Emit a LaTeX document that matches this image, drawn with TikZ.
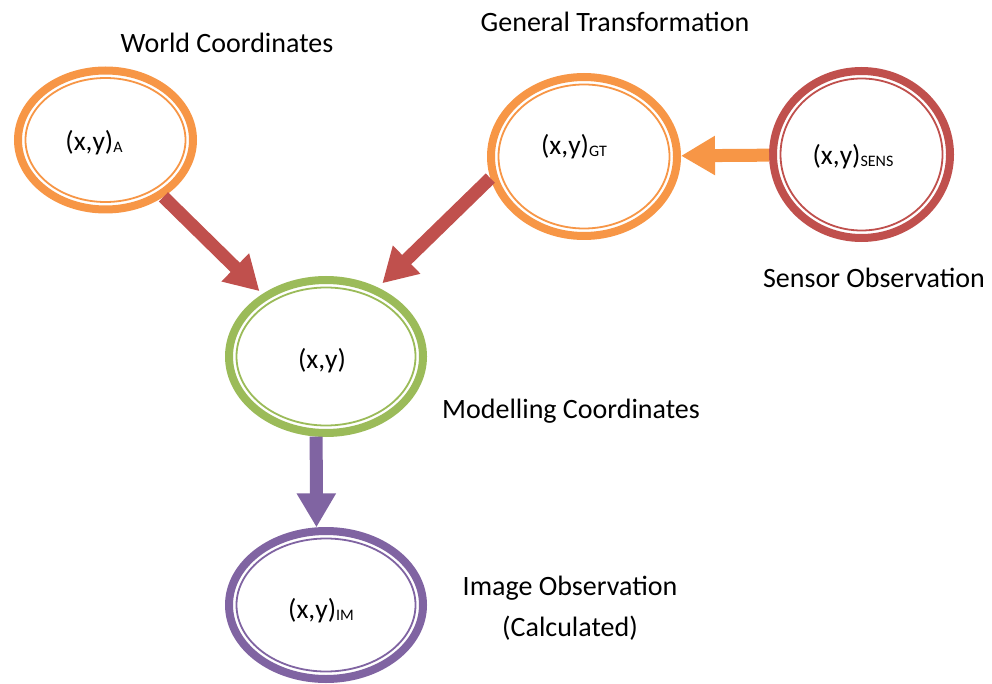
\documentclass[tikz,border=0pt]{standalone}
\usepackage{fontspec}
\setmainfont{Carlito}
\usetikzlibrary{arrows.meta,shapes.geometric}

\definecolor{ringorange}{HTML}{F79646}
\definecolor{ringred}{HTML}{C0504D}
\definecolor{ringgreen}{HTML}{9BBB59}
\definecolor{ringpurple}{HTML}{8064A2}

% small lowered tag after (x,y)
\newcommand\subtag[1]{\raisebox{-2pt}{\fontsize{16}{16}\selectfont #1}}

\begin{document}
\begin{tikzpicture}[x=1pt,y=-1pt,
  font=\fontsize{27.5}{33}\selectfont,
  ring/.style={ellipse, draw=#1, line width=8pt, inner sep=0pt, outer sep=4pt, fill=white},
  innerring/.style={draw=#1, line width=1.8pt},
  flow/.style={draw=#1, line width=13pt, -{Triangle[width=37pt,length=34pt]}, color=#1},
  coord/.style={inner sep=0pt},
  caption/.style={inner sep=0pt, font=\fontsize{28}{33}\selectfont}
]
\useasboundingbox (0,0) rectangle (992,684);

% rings: thick outer band with a thin inner line
\node[ring=ringorange, minimum width=175pt, minimum height=139pt] (A) at (105.5,140) {};
\draw[innerring=ringorange] (A.center) ellipse [x radius=80, y radius=62];
\node[coord] (Atxt) at (94,143) {(x,y)\subtag{A}};

\node[ring=ringorange, minimum width=186pt, minimum height=159pt] (GT) at (584,156.5) {};
\draw[innerring=ringorange] (GT.center) ellipse [x radius=85.5, y radius=72];
\node[coord] (GTtxt) at (574,147) {(x,y)\subtag{GT}};

\node[ring=ringred, minimum width=177pt, minimum height=167pt] (SENS) at (861.5,154.5) {};
\draw[innerring=ringred] (SENS.center) ellipse [x radius=81, y radius=76];
\node[coord] (SENStxt) at (853,157) {(x,y)\subtag{SENS}};

\node[ring=ringgreen, minimum width=194pt, minimum height=153pt] (M) at (326,356.5) {};
\draw[innerring=ringgreen] (M.center) ellipse [x radius=89.5, y radius=69];
\node[coord] (Mtxt) at (322,361) {(x,y)};

\node[ring=ringpurple, minimum width=194pt, minimum height=148pt] (IM) at (326,605) {};
\draw[innerring=ringpurple] (IM.center) ellipse [x radius=89.5, y radius=66.5];
\node[coord] (IMtxt) at (321,611) {(x,y)\subtag{IM}};

% connectors
\draw[flow=ringred, shorten >=4pt] (A) -- (M);
\draw[flow=ringred, shorten >=6pt] (GT.193) -- (M.53);
\draw[flow=ringorange] (SENS) -- (GT);
\draw[flow=ringpurple] (M.263) -- (IM.97);

% captions
\node[caption] (worldlbl) at (227,43) {World Coordinates};
\node[caption] (gtlbl) at (615,22) {General Transformation};
\node[caption] (senslbl) at (874,278) {Sensor Observation};
\node[caption] (modlbl) at (571,411) {Modelling Coordinates};
\node[caption, align=center, font=\fontsize{28}{41}\selectfont] (imlbl) at (570,608.5) {Image Observation\\(Calculated)};
\end{tikzpicture}
\end{document}
